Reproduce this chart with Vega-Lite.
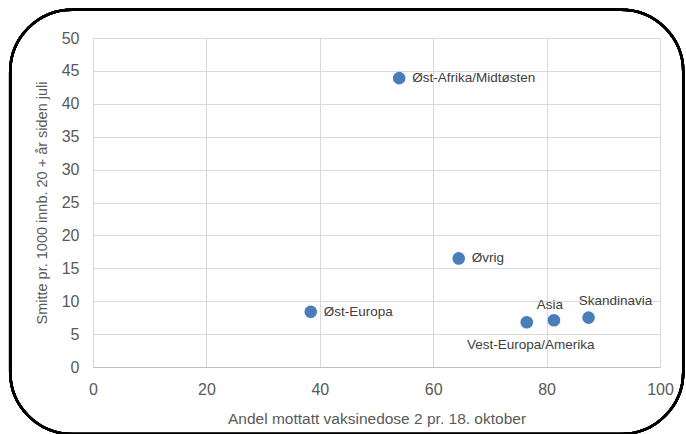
{
  "$schema": "https://vega.github.io/schema/vega-lite/v6.json",
  "width": 567,
  "height": 329,
  "autosize": "none",
  "padding": {"left": 93, "top": 38, "right": 26, "bottom": 67},
  "background": "white",
  "data": {
    "values": [
      {"region": "Øst-Afrika/Midtøsten", "vaksine": 54.0, "smitte": 43.9},
      {"region": "Øvrig", "vaksine": 64.5, "smitte": 16.5},
      {"region": "Øst-Europa", "vaksine": 38.4, "smitte": 8.4},
      {"region": "Vest-Europa/Amerika", "vaksine": 76.5, "smitte": 6.8},
      {"region": "Asia", "vaksine": 81.3, "smitte": 7.1},
      {"region": "Skandinavia", "vaksine": 87.4, "smitte": 7.5}
    ]
  },
  "encoding": {
    "x": {"field": "vaksine", "type": "quantitative", "scale": {"domain": [0, 100], "nice": false},
          "axis": {"title": "Andel mottatt vaksinedose 2 pr. 18. oktober", "values": [0, 20, 40, 60, 80, 100], "tickCount": 20, "titlePadding": 14, "titleFontSize": 15.5}},
    "y": {"field": "smitte", "type": "quantitative", "scale": {"domain": [0, 50], "nice": false},
          "axis": {"title": "Smitte pr. 1000 innb. 20 + år siden juli", "values": [0, 5, 10, 15, 20, 25, 30, 35, 40, 45, 50], "tickCount": 20, "titlePadding": 12, "titleFontSize": 14.5, "domain": false}}
  },
  "layer": [
    {
      "mark": {"type": "rect", "fill": null, "filled": false, "stroke": "black", "strokeWidth": 2.5, "cornerRadius": 62, "clip": false},
      "encoding": {
        "x": {"datum": -14.6, "type": "quantitative"},
        "x2": {"datum": 104.1},
        "y": {"datum": 54.3, "type": "quantitative"},
        "y2": {"datum": -10.2}
      }
    },
    {
      "mark": {"type": "circle", "color": "#4a7ebb", "opacity": 1, "size": 160}
    },
    {
      "transform": [{"filter": "indexof(['Øst-Afrika/Midtøsten','Øvrig','Øst-Europa'], datum.region) >= 0"}],
      "mark": {"type": "text", "align": "left", "baseline": "middle", "dx": 13, "fontSize": 13.5, "font": "Liberation Sans", "color": "#404040"},
      "encoding": {"text": {"field": "region"}}
    },
    {
      "transform": [{"filter": "datum.region == 'Asia'"}],
      "mark": {"type": "text", "align": "center", "baseline": "middle", "dx": -4, "dy": -15, "fontSize": 13.5, "font": "Liberation Sans", "color": "#404040"},
      "encoding": {"text": {"field": "region"}}
    },
    {
      "transform": [{"filter": "datum.region == 'Skandinavia'"}],
      "mark": {"type": "text", "align": "center", "baseline": "middle", "dx": 27, "dy": -17, "fontSize": 13.5, "font": "Liberation Sans", "color": "#404040"},
      "encoding": {"text": {"field": "region"}}
    },
    {
      "transform": [{"filter": "datum.region == 'Vest-Europa/Amerika'"}],
      "mark": {"type": "text", "align": "center", "baseline": "middle", "dx": 4, "dy": 23, "fontSize": 13.5, "font": "Liberation Sans", "color": "#404040"},
      "encoding": {"text": {"field": "region"}}
    }
  ],
  "config": {
    "view": {"stroke": null},
    "axis": {
      "grid": true,
      "gridColor": "#d9d9d9",
      "gridWidth": 1,
      "ticks": false,
      "domainColor": "#bfbfbf",
      "labelFont": "Liberation Sans",
      "labelFontSize": 16,
      "labelColor": "#595959",
      "labelPadding": 14,
      "labelOverlap": false,
      "labelFlush": false,
      "titleFont": "Liberation Sans",
      "titleFontWeight": "normal",
      "titleColor": "#595959"
    }
  }
}
